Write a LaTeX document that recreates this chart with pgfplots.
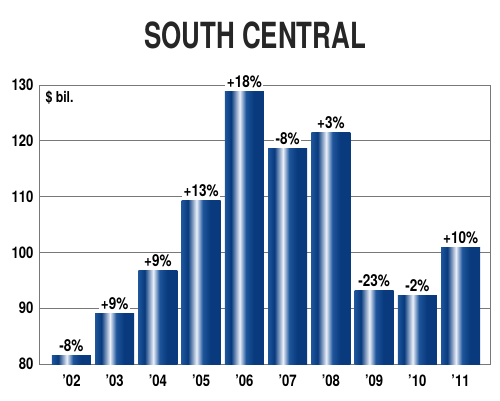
\documentclass[border=0pt]{standalone}
\usepackage{pgfplots}
\pgfplotsset{compat=1.18}
\usepackage{fontspec}
\setmainfont{TeX Gyre Heros}[FakeStretch=0.82]
\newfontfamily\titlefont{TeX Gyre Heros}[FakeStretch=0.72]
\definecolor{bardark}{RGB}{8,58,125}
\definecolor{barmid}{RGB}{30,85,155}
\definecolor{barlight}{RGB}{235,240,250}
\definecolor{gridgray}{RGB}{120,120,120}
\pgfdeclarehorizontalshading{barshade}{100bp}{color(0bp)=(barmid); color(25bp)=(barmid); color(33bp)=(bardark); color(44bp)=(barlight); color(52bp)=(barmid); color(62bp)=(bardark); color(75bp)=(bardark); color(100bp)=(bardark)}
\pgfplotsset{onebar/.style={draw=none, shading=barshade, bar shift=0pt}}
\begin{document}
\begin{tikzpicture}[x=1pt,y=1pt]
\path[use as bounding box] (0,0) rectangle (500,400);
\node[font=\titlefont\fontsize{36}{38}\selectfont\bfseries, text=black!85, anchor=base] at (255,352) {SOUTH CENTRAL};
\begin{axis}[
  at={(39pt,36pt)}, anchor=south west,
  scale only axis, width=451pt, height=279pt,
  ymin=80, ymax=130,
  xmin=-0.75, xmax=9.68,
  ytick={80,90,100,110,120,130},
  xtick={0,...,9},
  xticklabels={’02,’03,’04,’05,’06,’07,’08,’09,’10,’11},
  tick style={draw=none},
  ymajorgrids, grid style={gridgray, line width=0.8pt},
  axis line style={gridgray, line width=0.8pt},
  /pgf/number format/assume math mode=true,
  ticklabel style={font=\fontsize{16}{18}\selectfont\bfseries},
  yticklabel style={xshift=-2pt},
  xticklabel style={yshift=-3pt},
  ybar, bar width=39pt,
  nodes near coords={\pgfplotspointmeta},
  point meta=explicit symbolic,
  every node near coord/.style={font=\fontsize{16.5}{18}\selectfont\bfseries, fill=white, inner sep=1.5pt, yshift=2pt, anchor=south},
  clip=false,
]
\addplot[onebar] coordinates {(0,81.6) [-8\%]};
\addplot[onebar] coordinates {(1,89.1) [+9\%]};
\addplot[onebar] coordinates {(2,96.7) [+9\%]};
\addplot[onebar] coordinates {(3,109.3) [+13\%]};
\addplot[onebar] coordinates {(4,128.8) [+18\%]};
\addplot[onebar] coordinates {(5,118.7) [-8\%]};
\addplot[onebar] coordinates {(6,121.5) [+3\%]};
\addplot[onebar] coordinates {(7,93.2) [-23\%]};
\addplot[onebar] coordinates {(8,92.3) [-2\%]};
\addplot[onebar] coordinates {(9,100.8) [+10\%]};
\node[anchor=north west, font=\fontsize{15}{17}\selectfont\bfseries] at (rel axis cs:0,1) [xshift=3pt, yshift=-3pt] {\$ bil.};
\end{axis}
\end{tikzpicture}
\end{document}
